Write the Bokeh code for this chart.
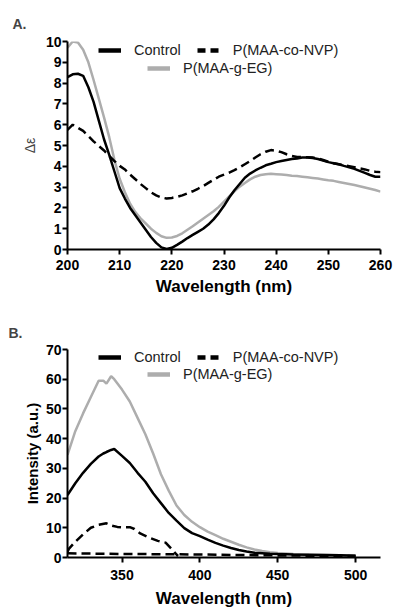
from bokeh.plotting import figure
from bokeh.models import Legend, LegendItem, FixedTicker, Range1d
from bokeh.layouts import column
from bokeh.embed import file_html
from bokeh.resources import INLINE

NAN = float("nan")

# ---------------- Panel A data (CD spectra) ----------------
cd_wl = list(range(200, 261))
cd_control = [8.28, 8.42, 8.45, 8.35, 7.8, 7.1, 6.2, 5.3, 4.55, 3.75,
              2.95, 2.45, 2.0, 1.65, 1.3, 0.95, 0.6, 0.32, 0.1, 0.03,
              0.08, 0.22, 0.38, 0.55, 0.7, 0.85, 1.0, 1.2, 1.45, 1.75,
              2.1, 2.5, 2.85, 3.15, 3.45, 3.65, 3.8, 3.93, 4.05, 4.12,
              4.2, 4.25, 4.3, 4.35, 4.38, 4.42, 4.42, 4.4, 4.35, 4.28,
              4.2, 4.15, 4.1, 4.02, 3.95, 3.88, 3.78, 3.68, 3.58, 3.5, 3.5]
cd_nvp = [5.75, 6.0, 5.85, 5.7, 5.45, 5.2, 4.98, 4.76, 4.5, 4.25,
          4.02, 3.85, 3.6, 3.38, 3.15, 2.95, 2.75, 2.6, 2.5, 2.45,
          2.48, 2.53, 2.6, 2.7, 2.8, 2.92, 3.05, 3.2, 3.35, 3.5,
          3.6, 3.7, 3.82, 3.95, 4.1, 4.25, 4.42, 4.58, 4.7, 4.78,
          4.75, 4.68, 4.58, 4.5, 4.45, 4.44, 4.44, 4.42, 4.38, 4.3,
          4.22, 4.15, 4.1, 4.05, 4.0, 3.95, 3.9, 3.85, 3.78, 3.74, 3.72]
cd_eg = [9.7, 10.0, 9.95, 9.6, 9.0, 8.15, 7.25, 6.35, 5.4, 4.3,
         3.4, 2.75, 2.2, 1.8, 1.5, 1.25, 1.0, 0.8, 0.64, 0.56,
         0.58, 0.65, 0.78, 0.95, 1.12, 1.3, 1.48, 1.66, 1.84, 2.05,
         2.3, 2.55, 2.8, 3.02, 3.2, 3.37, 3.5, 3.58, 3.62, 3.64,
         3.62, 3.6, 3.58, 3.55, 3.53, 3.5, 3.47, 3.44, 3.41, 3.37,
         3.33, 3.3, 3.25, 3.2, 3.15, 3.1, 3.04, 2.98, 2.92, 2.86, 2.78]
cd_xticks = [200, 210, 220, 230, 240, 250, 260]
cd_yticks = list(range(0, 11))

# ---------------- Panel B data (fluorescence) ----------------
fl_wl = [315, 320, 325, 330, 335, 338, 340, 343, 345, 350, 355, 360, 365,
         370, 375, 380, 385, 390, 395, 400, 405, 410, 415, 420, 425, 430,
         435, 440, 445, 450, 460, 470, 480, 490, 500]
fl_control = [21.0, 25.0, 28.5, 31.5, 34.0, 35.0, 35.5, 36.2, 36.5, 34.2,
              31.8, 28.5, 25.5, 21.6, 18.3, 15.0, 12.4, 9.9, 8.2, 7.2,
              6.0, 4.9, 4.0, 3.2, 2.5, 2.0, 1.6, 1.45, 1.3, 1.2,
              1.05, 0.95, 0.85, 0.75, 0.6]
fl_eg = [34.5, 42.5, 48.5, 54.0, 59.5, 59.5, 58.5, 61.0, 60.0, 56.5,
         52.5, 47.0, 41.5, 35.0, 28.0, 22.5, 17.5, 14.3, 12.0, 10.2,
         8.7, 7.5, 6.3, 5.3, 4.3, 3.4, 2.7, 2.2, 1.8, 1.5,
         1.15, 0.95, 0.85, 0.75, 0.6]
fl_nvp_wl = [315, 316, 320, 325, 330, 335, 340, 343, 347, 350, 355, 358,
             362, 367, 373, 378, 382, 385, 386]
fl_nvp = [2.0, 3.0, 5.3, 7.8, 10.0, 11.0, 11.5, 10.8, 10.3, 10.2, 10.2,
          9.6, 8.0, 6.8, 5.6, 5.0, 2.8, 1.0, 0.5]
fl_base_wl = [315, 350, 400, 450, 500]
fl_base = [1.4, 1.2, 1.0, 0.7, 0.5]
fl_xticks = [350, 400, 450, 500]
fl_yticks = [0, 10, 20, 30, 40, 50, 60, 70]

labels = ["Control", "P(MAA-co-NVP)", "P(MAA-g-EG)"]

BLACK = "#000000"
GRAY = "#adadad"
FONT = "Liberation Sans"


def style(p, ylabel_bold, ylabel_size, ylabel_color, ylab_standoff, xtick_standoff, xlab_standoff):
    p.xgrid.visible = False
    p.ygrid.visible = False
    p.outline_line_color = None
    p.background_fill_color = "white"
    p.border_fill_color = "white"
    for ax in (p.xaxis[0], p.yaxis[0]):
        ax.axis_line_width = 2
        ax.axis_line_color = BLACK
        ax.major_tick_line_width = 2
        ax.major_tick_line_color = BLACK
        ax.major_tick_out = 5
        ax.major_tick_in = 0
        ax.minor_tick_line_color = None
        ax.major_label_text_font = FONT
        ax.major_label_text_font_style = "bold"
        ax.major_label_text_font_size = "14px"
        ax.major_label_text_color = BLACK
        ax.axis_label_text_font = FONT
    p.xaxis[0].axis_label_text_font_style = "bold"
    p.xaxis[0].axis_label_text_font_size = "17px"
    p.xaxis[0].axis_label_text_color = BLACK
    p.xaxis[0].major_label_standoff = xtick_standoff
    p.xaxis[0].axis_label_standoff = xlab_standoff
    p.yaxis[0].axis_label_text_font_style = "bold" if ylabel_bold else "normal"
    p.yaxis[0].axis_label_text_font_size = ylabel_size
    p.yaxis[0].axis_label_text_color = ylabel_color
    p.yaxis[0].major_label_standoff = 1
    p.yaxis[0].axis_label_standoff = ylab_standoff
    p.title.text_font = FONT
    p.title.text_font_style = "bold"
    p.title.text_font_size = "14px"
    p.title.align = "left"


def add_legends(p, y1, y2):
    # legend proxies (no visible mark on the plot)
    d_ctrl = p.line(x=[NAN], y=[NAN], line_color=BLACK, line_width=4.5)
    d_nvp = p.line(x=[NAN], y=[NAN], line_color=BLACK, line_width=4.5, line_dash="8 5")
    d_eg = p.line(x=[NAN], y=[NAN], line_color=GRAY, line_width=4.5)
    common = dict(orientation="horizontal", padding=0, margin=0, spacing=16,
                  glyph_width=23, glyph_height=16, label_height=16,
                  label_standoff=13, label_text_font=FONT,
                  label_text_font_size="14.5px", label_text_color="#222222",
                  background_fill_alpha=0, border_line_alpha=0)
    leg1 = Legend(items=[LegendItem(label=labels[0], renderers=[d_ctrl]),
                         LegendItem(label=labels[1], renderers=[d_nvp])],
                  location=(31, y1), **common)
    leg2 = Legend(items=[LegendItem(label=labels[2], renderers=[d_eg])],
                  location=(80, y2), **common)
    p.add_layout(leg1, "center")
    p.add_layout(leg2, "center")


# ---------------- Panel A ----------------
p1 = figure(width=400, height=300, output_backend="svg", toolbar_location=None,
            x_range=Range1d(200, 260), y_range=Range1d(0, 10),
            min_border_left=67, min_border_right=20, min_border_top=41,
            min_border_bottom=51, title="A.",
            x_axis_label="Wavelength (nm)", y_axis_label="Δε")
p1.line(cd_wl, cd_eg, line_color=GRAY, line_width=2.5)
p1.line(cd_wl, cd_control, line_color=BLACK, line_width=2.5)
p1.line(cd_wl, cd_nvp, line_color=BLACK, line_width=2.5, line_dash="9 5")
p1.xaxis[0].ticker = FixedTicker(ticks=cd_xticks)
p1.yaxis[0].ticker = FixedTicker(ticks=cd_yticks)
style(p1, False, "14px", "#444444", 5, 5, 4)
p1.title.offset = -55
p1.title.standoff = 19
add_legends(p1, 191, 173)

# ---------------- Panel B ----------------
p2 = figure(width=400, height=313, output_backend="svg", toolbar_location=None,
            x_range=Range1d(315, 516), y_range=Range1d(0, 70),
            min_border_left=67, min_border_right=20, min_border_top=49,
            min_border_bottom=56, title="B.",
            x_axis_label="Wavelength (nm)", y_axis_label="Intensity (a.u.)")
p2.line(fl_wl, fl_eg, line_color=GRAY, line_width=2.5)
p2.line(fl_wl, fl_control, line_color=BLACK, line_width=2.5)
p2.line(fl_nvp_wl, fl_nvp, line_color=BLACK, line_width=2.5, line_dash="9 5")
p2.line(fl_base_wl, fl_base, line_color=BLACK, line_width=2.5, line_dash="9 5")
p2.xaxis[0].ticker = FixedTicker(ticks=fl_xticks)
p2.yaxis[0].ticker = FixedTicker(ticks=fl_yticks)
style(p2, True, "15px", BLACK, 2, 7, 6)
p2.title.offset = -59
p2.title.standoff = 18
add_legends(p2, 192, 175)

layout = column(p1, p2)
open("out.html", "w").write(file_html(layout, INLINE))
